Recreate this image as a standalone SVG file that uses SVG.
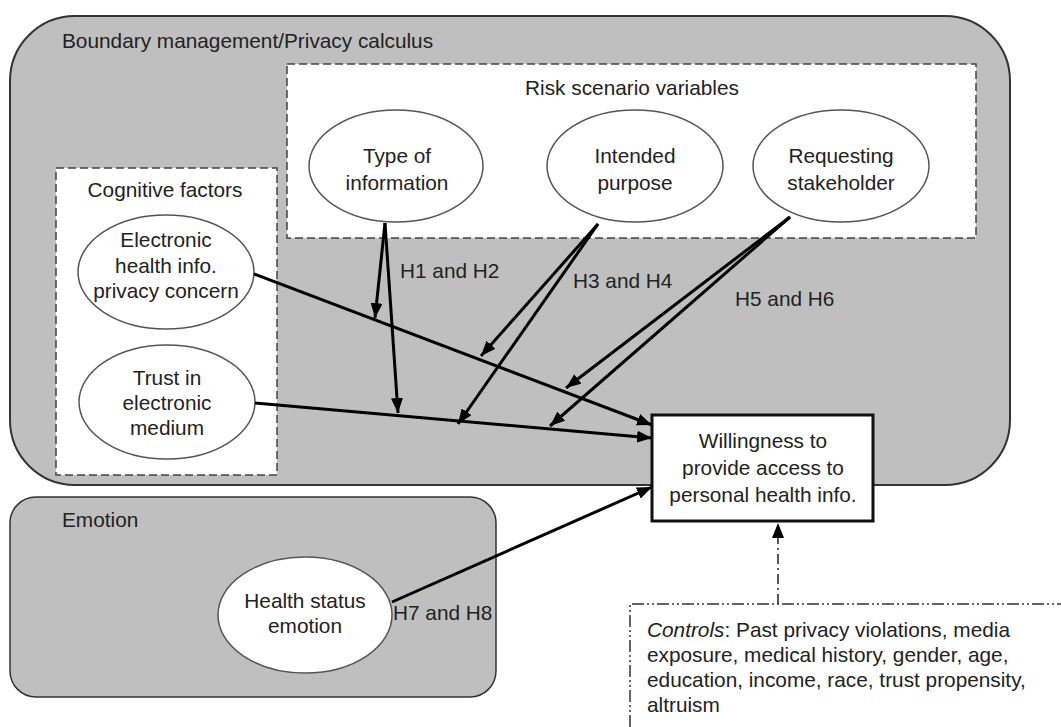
<svg xmlns="http://www.w3.org/2000/svg" width="1061" height="727" viewBox="0 0 1061 727">
<defs>
<style>
text{font-family:"Liberation Sans",Arial,sans-serif;font-size:20.8px;fill:#222;}
.mid{text-anchor:middle;}
.region{fill:#bfbfbf;stroke:#333;stroke-width:2;}
.dash{fill:#fff;stroke:#444;stroke-width:1.5;stroke-dasharray:8 4;}
.ell{fill:#fff;stroke:#555;stroke-width:1.5;}
.arr{fill:none;stroke:#000;stroke-width:3;marker-end:url(#ah);}
</style>
<marker id="ah" markerUnits="userSpaceOnUse" markerWidth="16" markerHeight="12" refX="15" refY="6" orient="auto">
<path d="M0,0 L15,6 L0,12 z" fill="#000"/>
</marker>
<marker id="ah2" markerUnits="userSpaceOnUse" markerWidth="14" markerHeight="16" refX="7" refY="1" orient="0">
<path d="M7,0 L13,15 L1,15 z" fill="#000"/>
</marker>
</defs>

<g id="boundary">
<rect class="region" x="10" y="16" width="1000" height="469" rx="65" ry="65"/>
<text x="62" y="48">Boundary management/Privacy calculus</text>
</g>

<g id="risk-scenario">
<rect class="dash" x="287" y="64" width="689" height="174"/>
<text class="mid" x="632" y="95">Risk scenario variables</text>
</g>

<g id="cognitive">
<rect class="dash" x="56" y="168" width="221" height="307"/>
<text class="mid" x="165" y="197">Cognitive factors</text>
</g>

<g id="type-info">
<ellipse class="ell" cx="396" cy="166" rx="87" ry="56"/>
<text class="mid" x="397" y="163">Type of</text>
<text class="mid" x="397" y="190">information</text>
</g>

<g id="intended-purpose">
<ellipse class="ell" cx="635" cy="166" rx="88" ry="56"/>
<text class="mid" x="635" y="163">Intended</text>
<text class="mid" x="635" y="190">purpose</text>
</g>

<g id="requesting-stakeholder">
<ellipse class="ell" cx="841" cy="166" rx="88" ry="56"/>
<text class="mid" x="841" y="163">Requesting</text>
<text class="mid" x="841" y="190">stakeholder</text>
</g>

<g id="privacy-concern">
<ellipse class="ell" cx="166" cy="272" rx="88" ry="57"/>
<text class="mid" x="166" y="247">Electronic</text>
<text class="mid" x="166" y="273">health info.</text>
<text class="mid" x="166" y="298">privacy concern</text>
</g>

<g id="trust">
<ellipse class="ell" cx="167" cy="402" rx="88" ry="57"/>
<text class="mid" x="167" y="385">Trust in</text>
<text class="mid" x="167" y="410">electronic</text>
<text class="mid" x="167" y="435">medium</text>
</g>

<g id="emotion">
<rect class="region" x="10" y="497" width="486" height="200" rx="26" ry="26" style="stroke-width:1.5"/>
<text x="62" y="527">Emotion</text>
</g>

<g id="health-status">
<ellipse class="ell" cx="305" cy="615" rx="87" ry="58"/>
<text class="mid" x="305" y="608">Health status</text>
<text class="mid" x="305" y="633">emotion</text>
</g>

<g id="controls">
<path d="M630,727 L630,604 L1061,604" fill="none" stroke="#333" stroke-width="1.5" stroke-dasharray="12 3 2 3 2 3"/>
<text x="647" y="637"><tspan font-style="italic">Controls</tspan>: Past privacy violations, media</text>
<text x="647" y="662">exposure, medical history, gender, age,</text>
<text x="647" y="687">education, income, race, trust propensity,</text>
<text x="647" y="712">altruism</text>
</g>

<g id="connectors">
<line class="arr" x1="385" y1="223" x2="375" y2="318"/>
<line class="arr" x1="385" y1="223" x2="398" y2="413"/>
<line class="arr" x1="598" y1="224" x2="481" y2="356"/>
<line class="arr" x1="598" y1="224" x2="458" y2="424"/>
<line class="arr" x1="790" y1="217" x2="566" y2="388"/>
<line class="arr" x1="790" y1="217" x2="550" y2="426"/>
<line class="arr" x1="254" y1="274" x2="652" y2="425"/>
<line class="arr" x1="255" y1="403" x2="652" y2="438"/>
<line class="arr" x1="392" y1="602" x2="652" y2="487"/>
<line x1="778" y1="604" x2="778" y2="524" stroke="#222" stroke-width="1.5" stroke-dasharray="10 4 2 4" marker-end="url(#ah2)"/>
<text x="400" y="278">H1 and H2</text>
<text x="573" y="288">H3 and H4</text>
<text x="735" y="306">H5 and H6</text>
<text x="393" y="620">H7 and H8</text>
</g>

<g id="willingness">
<rect x="652" y="415" width="221" height="106" fill="#fff" stroke="#111" stroke-width="3"/>
<text class="mid" x="763" y="448">Willingness to</text>
<text class="mid" x="763" y="475">provide access to</text>
<text class="mid" x="763" y="502">personal health info.</text>
</g>
</svg>
